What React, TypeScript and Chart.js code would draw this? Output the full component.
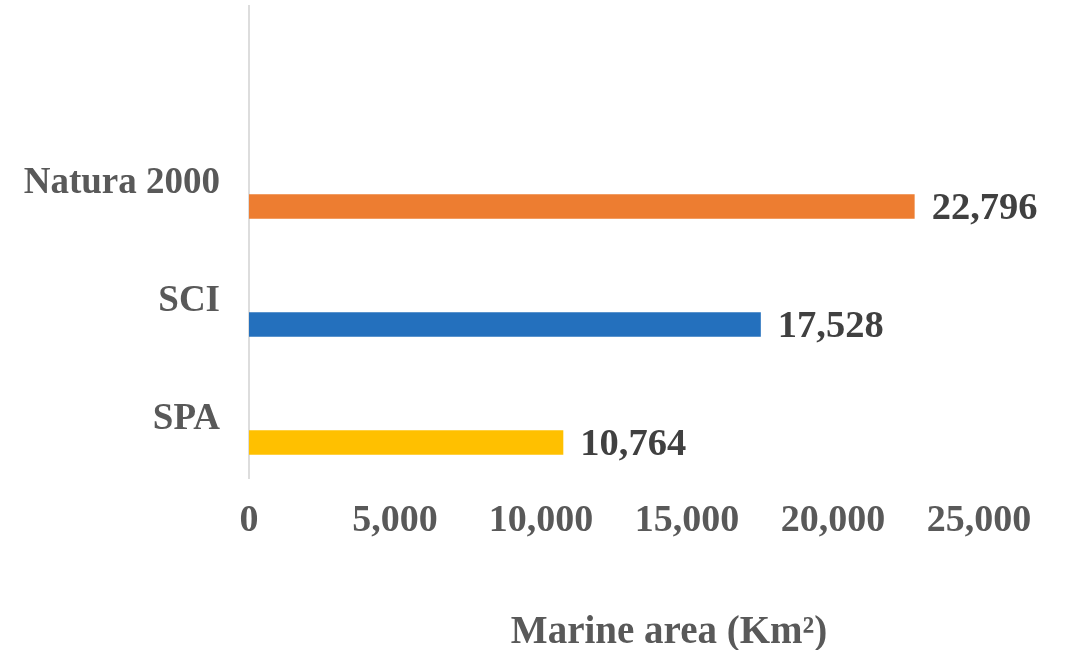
import React, { useEffect, useRef } from "react";
import { Chart, registerables } from "chart.js";

Chart.register(...registerables);

// Categories top to bottom (first row of the original sheet is empty)
const categories: string[] = ["", "Natura 2000", "SCI", "SPA"];
const areaValues: (number | null)[] = [null, 22796, 17528, 10764];
const emptySeries: (number | null)[] = [null, null, null, null];
const barColors: string[] = ["#FFFFFF", "#ED7D31", "#2470BD", "#FFC000"];
const xTicks: number[] = [0, 5000, 10000, 15000, 20000, 25000];
const axisTitle = "Marine area (Km²)";

const FONT = "'Liberation Serif', 'Times New Roman', serif";

const fmt = (v: number) => v.toLocaleString("en-US");

const valueLabels = {
  id: "valueLabels",
  afterDatasetsDraw(chart: any) {
    const ctx = chart.ctx;
    const meta = chart.getDatasetMeta(1);
    ctx.save();
    ctx.font = `bold 38.5px ${FONT}`;
    ctx.fillStyle = "#404040";
    ctx.textAlign = "left";
    ctx.textBaseline = "middle";
    meta.data.forEach((el: any, i: number) => {
      const v = areaValues[i];
      if (v == null) return;
      ctx.fillText(fmt(v), el.x + 17, el.y + 2);
    });
    // axis title
    ctx.font = `bold 39px ${FONT}`;
    ctx.fillStyle = "#595959";
    ctx.textAlign = "center";
    ctx.fillText(axisTitle, 669, chart.height - 17);
    ctx.restore();
  },
};

export default function App() {
  const ref = useRef<HTMLCanvasElement | null>(null);
  useEffect(() => {
    document.body.style.margin = "0";
    if (!ref.current) return;
    const chart = new Chart(ref.current, {
      type: "bar",
      data: {
        labels: categories,
        datasets: [
          { label: "empty", data: emptySeries, backgroundColor: "#FFFFFF" },
          { label: "Marine area", data: areaValues, backgroundColor: barColors },
        ],
      },
      options: {
        indexAxis: "y",
        animation: false,
        responsive: true,
        maintainAspectRatio: false,
        categoryPercentage: 0.8,
        barPercentage: 0.52,
        layout: { padding: { left: 0, top: 6, right: 87, bottom: 0 } },
        plugins: {
          legend: { display: false },
          tooltip: { enabled: false },
        },
        scales: {
          y: {
            type: "category",
            grid: { display: false, drawTicks: false },
            border: { display: true, color: "#DDDDDD", width: 2 },
            ticks: {
              color: "#595959",
              padding: 29,
              font: { family: FONT, size: 37, weight: "bold" },
            },
            afterFit: (scale: any) => {
              scale.width = 249;
              scale.paddingTop = 0;
              scale.paddingBottom = 0;
            },
          },
          x: {
            type: "linear",
            min: 0,
            max: 25000,
            afterBuildTicks: (scale: any) => {
              scale.ticks = xTicks.map((v) => ({ value: v }));
            },
            grid: { display: false, drawTicks: false },
            border: { display: false },
            ticks: {
              color: "#595959",
              padding: 20,
              font: { family: FONT, size: 38, weight: "bold" },
              callback: (v: any) => fmt(Number(v)),
            },
            afterFit: (scale: any) => {
              scale.height = 172;
              scale.paddingLeft = 0;
              scale.paddingRight = 0;
            },
          },
        },
      } as any,
      plugins: [valueLabels],
    });
    return () => chart.destroy();
  }, []);
  return (
    <div style={{ position: "fixed", left: 0, top: 0, width: 1066, height: 650 }}>
      <canvas ref={ref} />
    </div>
  );
}
